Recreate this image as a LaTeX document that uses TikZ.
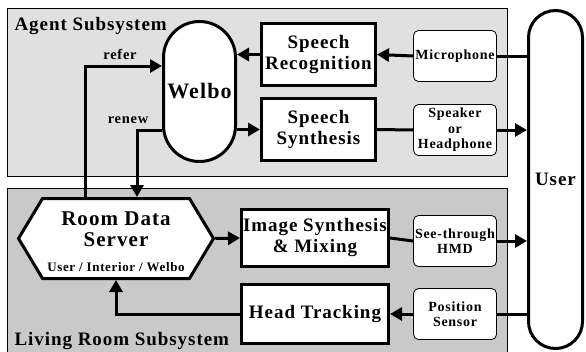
\documentclass[tikz,border=0pt]{standalone}
\usepackage{fontspec}
\setmainfont{Liberation Serif}[LetterSpace=5]
\usetikzlibrary{arrows.meta,shapes.symbols}

\tikzset{
  panel/.style={draw=black, line width=0.8pt},
  blockbox/.style={draw, line width=3pt, fill=white, align=center, inner sep=1pt,
    font=\bfseries\fontsize{19}{21}\selectfont},
  devbox/.style={draw, line width=0.8pt, rounded corners=5pt, fill=white, align=center,
    minimum width=83pt, minimum height=51pt, inner sep=1pt,
    font=\bfseries\fontsize{14}{15.5}\selectfont},
  arr/.style={line width=3pt, -{Triangle[length=12pt,width=13pt]}},
  link/.style={line width=3pt},
}

\begin{document}
\begin{tikzpicture}[x=1pt, y=-1pt]
    \useasboundingbox (0,0) rectangle (586,351);

    % Agent subsystem
    \filldraw[panel, fill=black!12] (7,8) rectangle (507,176);
    \node[anchor=west, font=\bfseries\fontsize{19}{21}\selectfont] (agentlbl) at (11,26) {Agent Subsystem};

    % Living room subsystem
    \filldraw[panel, fill=black!21] (7,352) -- (7,188) -- (507,188) -- (507,352);
    \node[anchor=west, font=\bfseries\fontsize{19}{21}\selectfont] (livinglbl) at (11,341) {Living Room Subsystem};

    % Welbo and the user
    \node[blockbox, rounded corners=36pt, minimum width=72pt, minimum height=140pt,
      font=\bfseries\fontsize{22}{24}\selectfont] (welbo) at (199.5,91.5) {Welbo};
    \node[blockbox, rounded corners=27pt, minimum width=54pt, minimum height=338pt] (user) at (555.5,179.5) {User};

    % speech blocks
    \node[blockbox, minimum width=114pt, minimum height=62pt] (sr) at (318.5,54.5) {Speech\\Recognition};
    \node[blockbox, minimum width=114pt, minimum height=62pt] (ss) at (318.5,129.5) {Speech\\Synthesis};
    \node[devbox] (mic) at (455,56) {Microphone};
    \node[devbox] (spk) at (455,130) {Speaker\\or\\Headphone};

    % room blocks
    \node[blockbox, signal, signal to=west and east, signal pointer angle=118,
      minimum width=195pt, minimum height=80pt] (rds) at (116,238.5) {};
    \node[align=center, font=\bfseries\fontsize{21}{21}\selectfont] (rdstitle) at (116,229) {Room Data\\Server};
    \node[font=\bfseries\fontsize{13}{14}\selectfont] (rdsitems) at (116,267) {User / Interior / Welbo};
    \node[blockbox, minimum width=147pt, minimum height=57pt] (img) at (315,238) {Image Synthesis\\\& Mixing};
    \node[blockbox, minimum width=147pt, minimum height=59pt] (ht) at (315,314) {Head Tracking};
    \node[devbox] (hmd) at (455,241) {See-through\\HMD};
    \node[devbox] (pos) at (455,314) {Position\\Sensor};

    % speech path
    \draw[link] (user.west |- mic) -- (mic.east);
    \draw[arr] (mic.west) -- (sr.east);
    \draw[arr] (sr.west) -- (sr.west -| welbo.east);
    \draw[arr] (welbo.east |- ss.west) -- (ss.west);
    \draw[link] (ss.east) -- (spk.west);
    \draw[arr] (spk.east) -- (spk.east -| user.west);

    % refer / renew
    \coordinate (referbend) at (85,66);
    \coordinate (renewbend) at (137,130);
    \draw[arr] (rds.north -| referbend) |- (welbo.west |- referbend);
    \draw[arr] (welbo.west |- renewbend) -| (rds.north -| renewbend);
    \node[font=\bfseries\fontsize{14.5}{15}\selectfont] (referlbl) at (120,54) {refer};
    \node[font=\bfseries\fontsize{14.5}{15}\selectfont] (renewlbl) at (128,120) {renew};

    % image and tracking path
    \draw[arr] (rds.east) -- (img.west);
    \draw[link] (img.east) -- (hmd.west);
    \draw[arr] (hmd.east) -- (hmd.east -| user.west);
    \draw[link] (user.west |- pos) -- (pos.east);
    \draw[arr] (pos.west) -- (ht.east);
    \draw[arr] (ht.west) -| (rds.south);
\end{tikzpicture}
\end{document}
